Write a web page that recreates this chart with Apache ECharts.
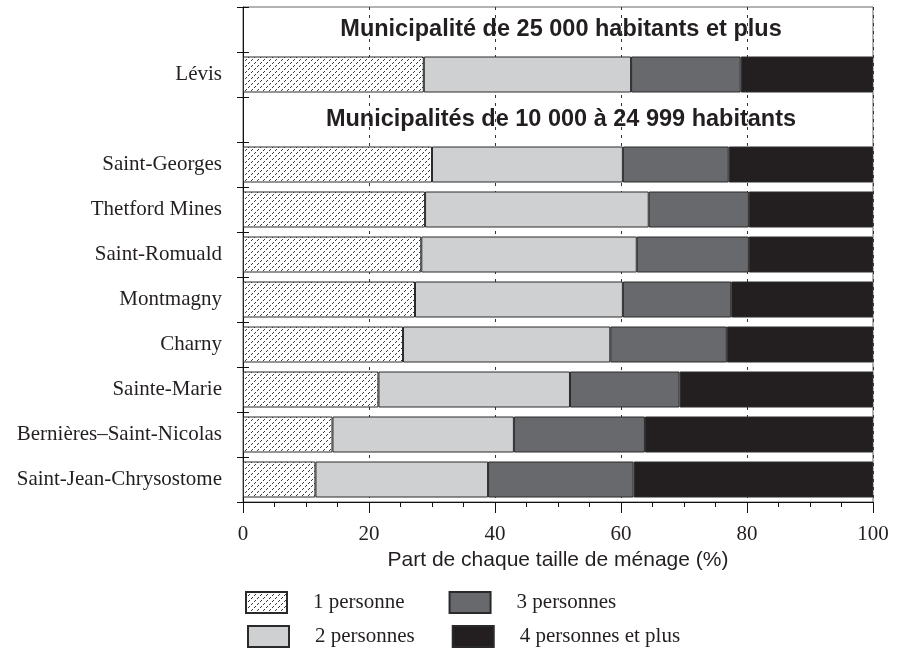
<!DOCTYPE html>
<html>
<head>
<meta charset="utf-8">
<script src="https://cdn.jsdelivr.net/npm/echarts@6/dist/echarts.min.js"></script>
<style>html,body{margin:0;padding:0;background:#fff}#c{width:899px;height:648px}</style>
</head>
<body>
<div id="c"></div>
<script>
const headerRows = ['Municipalité de 25 000 habitants et plus', 'Municipalités de 10 000 à 24 999 habitants'];
const categories = ['Municipalité de 25 000 habitants et plus', 'Lévis', 'Municipalités de 10 000 à 24 999 habitants',
  'Saint-Georges', 'Thetford Mines', 'Saint-Romuald', 'Montmagny', 'Charny', 'Sainte-Marie',
  'Bernières–Saint-Nicolas', 'Saint-Jean-Chrysostome'];
const seriesNames = ['1 personne', '2 personnes', '3 personnes', '4 personnes et plus'];
const onePerson    = ['-', 28.7, '-', 30.0, 28.9, 28.3, 27.3, 25.4, 21.5, 14.2, 11.5];
const twoPersons   = ['-', 32.9, '-', 30.3, 35.5, 34.2, 33.0, 32.9, 30.4, 28.8, 27.4];
const threePersons = ['-', 17.4, '-', 16.8, 15.9, 17.8, 17.2, 18.5, 17.4, 20.8, 23.1];
const fourPlus     = ['-', 21.0, '-', 22.9, 19.7, 19.7, 22.5, 23.2, 30.7, 36.2, 38.0];
const headerSpan   = [100, '-', 100, '-', '-', '-', '-', '-', '-', '-', '-'];
const xTicks = [0, 20, 40, 60, 80, 100];

// hatch pattern
const pc = document.createElement('canvas');
pc.width = 6; pc.height = 6;
const g = pc.getContext('2d');
g.fillStyle = '#ffffff'; g.fillRect(0, 0, 6, 6);
g.fillStyle = '#3a3a3a';
g.fillRect(5, 0, 1, 1); g.fillRect(3, 2, 1, 1); g.fillRect(2, 3, 1, 1); g.fillRect(0, 5, 1, 1);
const hatch = { image: pc, repeat: 'repeat' };

const colors = [hatch, '#cfd0d2', '#68696d', '#231f20'];
const values = [onePerson, twoPersons, threePersons, fourPlus];
const serif = 'Liberation Serif, Times New Roman, serif';
const sans = 'Liberation Sans, Arial, sans-serif';

const series = seriesNames.map((n, i) => ({
  name: n, type: 'bar', stack: 'total', barWidth: 36, data: values[i],
  itemStyle: { color: colors[i], borderColor: '#2a2a2a', borderWidth: 1 },
  emphasis: { disabled: true }
}));
series.push({
  name: 'header', type: 'bar', stack: 'hdr', barWidth: 36, barGap: '-100%', data: headerSpan, silent: true,
  itemStyle: { color: 'rgba(0,0,0,0)', borderWidth: 0 },
  label: { show: true, position: 'inside', offset: [3, 0], formatter: p => p.name,
    fontFamily: sans, fontWeight: 'bold', fontSize: 23.5, color: '#231f20' },
  z: 5
});

const legendText = { fontFamily: serif, fontSize: 21, color: '#231f20', padding: [0, 0, 0, 21], lineHeight: 21 };
const chart = echarts.init(document.getElementById('c'), null, { renderer: 'canvas' });
chart.setOption({
  animation: false,
  grid: { left: 243, right: 26, top: 7, bottom: 146, show: true, borderColor: '#666', borderWidth: 1 },
  legend: [
    { data: ['1 personne', '3 personnes'], left: 240, top: 586, itemWidth: 41, itemHeight: 21, itemGap: 44,
      icon: 'rect', selectedMode: false, textStyle: legendText },
    { data: ['2 personnes', '4 personnes et plus'], left: 242, top: 620, itemWidth: 41, itemHeight: 21, itemGap: 37,
      icon: 'rect', selectedMode: false, textStyle: legendText }
  ],
  xAxis: {
    type: 'value', min: 0, max: 100, interval: 20,
    name: 'Part de chaque taille de ménage (%)', nameLocation: 'middle', nameGap: 43,
    nameTextStyle: { fontFamily: sans, fontSize: 21, color: '#231f20' },
    axisLine: { show: true, lineStyle: { color: '#111', width: 1 } },
    axisTick: { show: true, length: 11, lineStyle: { color: '#111' } },
    minorTick: { show: true, splitNumber: 4, length: 5, lineStyle: { color: '#111' } },
    axisLabel: { fontFamily: serif, fontSize: 21, color: '#231f20', margin: 22,
      formatter: v => xTicks.includes(v) ? String(v) : '' },
    splitLine: { show: true, lineStyle: { color: '#333', width: 1, type: [3, 5] } }
  },
  yAxis: [
    { type: 'category', inverse: true, data: categories,
      axisLine: { show: true, lineStyle: { color: '#111', width: 1 } },
      axisTick: { show: true, length: 6, lineStyle: { color: '#111' } },
      axisLabel: { fontFamily: serif, fontSize: 21, color: '#231f20', margin: 21,
        formatter: v => headerRows.includes(v) ? '' : v },
      splitLine: { show: false } },
    { type: 'category', inverse: true, data: categories, position: 'left', offset: 0,
      axisLine: { show: false }, axisLabel: { show: false },
      axisTick: { show: true, inside: true, length: 6, lineStyle: { color: '#111' } },
      splitLine: { show: false } }
  ],
  series: series
});
</script>
</body>
</html>
